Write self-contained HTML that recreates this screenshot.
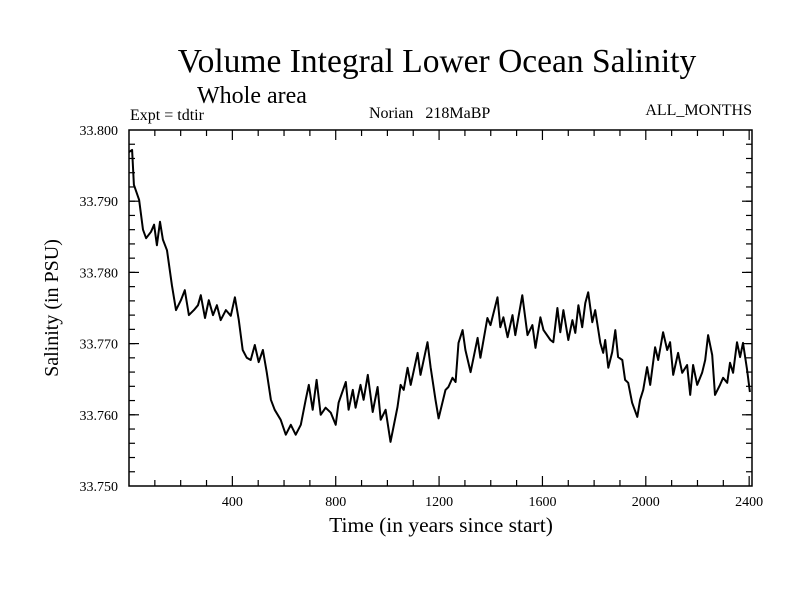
<!DOCTYPE html>
<html><head><meta charset="utf-8"><style>
body{margin:0;background:#fff}
svg text{font-family:"Liberation Serif",serif;fill:#000}
</style></head><body>
<svg id="c" width="800" height="600" xmlns="http://www.w3.org/2000/svg">
<text x="437" y="72" font-size="33.5" text-anchor="middle">Volume Integral Lower Ocean Salinity</text>
<text x="197" y="103" font-size="24">Whole area</text>
<text x="130" y="120" font-size="16">Expt = tdtir</text>
<text x="369" y="118" font-size="16">Norian&#160;&#160; 218MaBP</text>
<text x="752" y="115" font-size="16" text-anchor="end">ALL_MONTHS</text>
<text x="441" y="532" font-size="21.5" text-anchor="middle">Time (in years since start)</text>
<text transform="translate(58,308) rotate(-90)" font-size="20" text-anchor="middle">Salinity (in PSU)</text>
<rect x="129" y="130" width="623" height="356" fill="none" stroke="#000" stroke-width="1.5"/>
<g id="ticks"></g>
<path id="line" fill="none" stroke="#000" stroke-width="2" stroke-linejoin="round"/>
</svg>
<script>
const years=[0,12,19,39,54,66,85,97,108,120,131,147,166,182,201,216,232,251,267,278,294,309,325,340,355,375,394,410,425,440,456,471,487,502,518,533,549,564,587,607,626,645,665,684,696,711,726,742,761,781,800,811,839,850,866,877,896,908,924,943,962,974,993,1012,1039,1051,1063,1078,1090,1117,1128,1155,1167,1186,1198,1225,1236,1252,1264,1275,1291,1302,1322,1349,1360,1387,1399,1426,1437,1449,1465,1484,1495,1522,1542,1561,1573,1592,1604,1631,1642,1658,1669,1681,1700,1716,1727,1739,1754,1766,1777,1793,1804,1824,1835,1843,1855,1870,1882,1893,1909,1920,1932,1947,1967,1978,1990,2005,2017,2036,2048,2067,2083,2094,2106,2125,2141,2160,2172,2183,2199,2218,2230,2241,2257,2268,2287,2299,2315,2326,2338,2353,2365,2376,2392,2403];
const salinity=[33.7969,33.7972,33.7923,33.7902,33.7860,33.7848,33.7857,33.7867,33.7838,33.7871,33.7846,33.7831,33.7782,33.7747,33.7761,33.7775,33.7740,33.7747,33.7754,33.7768,33.7736,33.7761,33.7740,33.7754,33.7733,33.7747,33.7739,33.7765,33.7733,33.7691,33.7680,33.7677,33.7698,33.7674,33.7691,33.7660,33.7621,33.7607,33.7593,33.7572,33.7586,33.7572,33.7586,33.7621,33.7642,33.7607,33.7649,33.7600,33.7610,33.7603,33.7586,33.7617,33.7646,33.7607,33.7635,33.7610,33.7642,33.7621,33.7656,33.7604,33.7639,33.7593,33.7607,33.7562,33.7611,33.7642,33.7635,33.7666,33.7642,33.7687,33.7656,33.7702,33.7667,33.7621,33.7595,33.7635,33.7639,33.7652,33.7646,33.7701,33.7719,33.7691,33.7660,33.7708,33.7680,33.7736,33.7726,33.7765,33.7723,33.7737,33.7709,33.7740,33.7712,33.7768,33.7712,33.7726,33.7694,33.7737,33.7719,33.7705,33.7702,33.7750,33.7716,33.7747,33.7705,33.7733,33.7715,33.7754,33.7723,33.7757,33.7772,33.7730,33.7747,33.7701,33.7687,33.7705,33.7666,33.7688,33.7719,33.7681,33.7677,33.7649,33.7645,33.7617,33.7597,33.7621,33.7635,33.7667,33.7642,33.7695,33.7677,33.7716,33.7691,33.7702,33.7656,33.7687,33.7659,33.7670,33.7628,33.7670,33.7642,33.7659,33.7677,33.7712,33.7684,33.7628,33.7642,33.7652,33.7645,33.7673,33.7659,33.7702,33.7681,33.7701,33.7663,33.7632];
const xTickLabels=[400,800,1200,1600,2000,2400];
const yTickLabels=["33.750","33.760","33.770","33.780","33.790","33.800"];
const X0=129,X1=752,Y0=486,Y1=130,XMIN=0,XMAX=2411,YMIN=33.75,YMAX=33.80;
const sx=v=>X0+(v-XMIN)/(XMAX-XMIN)*(X1-X0);
const sy=v=>Y0-(v-YMIN)/(YMAX-YMIN)*(Y0-Y1);
const NS="http://www.w3.org/2000/svg";
const g=document.getElementById('ticks');
function ln(x1,y1,x2,y2,name){const l=document.createElementNS(NS,'line');l.setAttribute('x1',x1);l.setAttribute('y1',y1);l.setAttribute('x2',x2);l.setAttribute('y2',y2);l.setAttribute('stroke','#000');l.setAttribute('stroke-width','1.2');


g.appendChild(l);}
function tx(x,y,s,anchor,name){const t=document.createElementNS(NS,'text');t.setAttribute('x',x);t.setAttribute('y',y);t.setAttribute('font-size','14');t.setAttribute('text-anchor',anchor);t.textContent=s;


g.appendChild(t);}
for(let yr=100;yr<=XMAX;yr+=100){const x=sx(yr);const major=yr%400===0;const L=major?10:6;ln(x,Y0,x,Y0-L,'x-tick');ln(x,Y1,x,Y1+L,'x-tick');}
xTickLabels.forEach(v=>tx(sx(v),506,String(v),'middle','x-tick-label'));
for(let i=1;i<25;i++){const v=YMIN+i*0.002;const y=sy(v);ln(X0,y,X0+6,y,'y-tick');ln(X1,y,X1-6,y,'y-tick');}
yTickLabels.forEach(s=>{const v=parseFloat(s);const y=sy(v);if(v>YMIN&&v<YMAX){ln(X0,y,X0+10,y,'y-tick');ln(X1,y,X1-10,y,'y-tick');}tx(118,y+5,s,'end','y-tick-label');});
let d='';years.forEach((yr,i)=>{d+=(i?'L':'M')+sx(yr).toFixed(1)+' '+sy(salinity[i]).toFixed(1);});
document.getElementById('line').setAttribute('d',d);
</script>
</body></html>
